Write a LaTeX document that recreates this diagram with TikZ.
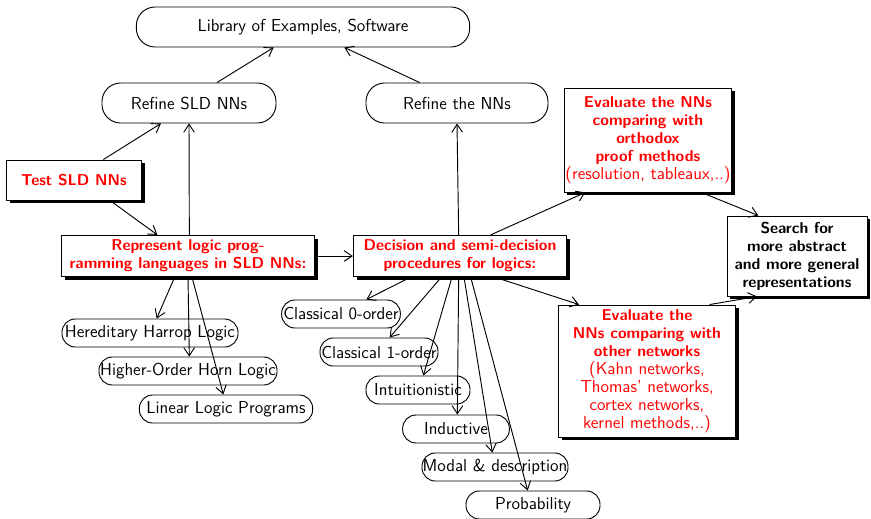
\documentclass[tikz,border=0pt]{standalone}
\usepackage{tikz}
\usetikzlibrary{arrows.meta, shadows}
\usepackage{xcolor}
\newcommand\nm{\mdseries\fontsize{13}{13.5}\selectfont}

\begin{document}
\begin{tikzpicture}[x=0.75pt, y=-0.75pt, font=\sffamily\fontsize{13}{13.5}\selectfont,
  o/.style={draw, line width=0.7pt, rounded corners=10pt, fill=white, align=center,
            inner sep=0pt, minimum height=21pt},
  big/.style={o, rounded corners=14pt, minimum height=30pt},
  rb/.style={draw, line width=0.7pt, fill=white, align=center, inner sep=1pt,
             text=red, font=\sffamily\bfseries\fontsize{11.8}{13.5}\selectfont,
             drop shadow={fill=black, opacity=1, shadow xshift=2.5pt, shadow yshift=-2.5pt}},
  bb/.style={rb, text=black},
  a/.style={-{Straight Barb[length=6pt, width=8pt]}, line width=0.7pt}]
  \useasboundingbox (0,0) rectangle (871,518);
  % ---- top row
  \node[big, minimum width=250pt]   (lib)    at (303,27)  {Library of Examples, Software};
  \node[big, minimum width=130.5pt] (refSLD) at (189,103) {Refine SLD NNs};
  \node[big, minimum width=136.5pt] (refNN)  at (457,103) {Refine the NNs};
  % ---- red boxes
  \node[rb, minimum width=101pt, minimum height=30pt] (test) at (74,180) {Test SLD NNs};
  \node[rb, minimum width=190pt, minimum height=31pt] (repr) at (188,256)
    {Represent logic prog-\\ramming languages in SLD NNs:};
  \node[rb, minimum width=160pt, minimum height=31pt] (dec) at (460,256)
    {Decision and semi-decision\\procedures for logics:};
  \node[rb, minimum width=123pt, minimum height=78pt] (evOrth) at (648,140)
    {Evaluate the NNs\\ comparing with\\orthodox\\proof methods\\
     \nm(resolution, tableaux,..)};
  \node[rb, minimum width=133pt, minimum height=99pt] (evOther) at (647,371)
    {Evaluate the\\NNs comparing with\\other networks\\
     \nm(Kahn networks,\\\nm Thomas' networks,\\\nm cortex networks,\\\nm kernel methods,..)};
  \node[bb, minimum width=105pt, minimum height=60pt] (search) at (797,256)
    {Search for\\more abstract\\and more general\\representations};
  % ---- logic programming languages
  \node[o, minimum width=132pt]   (hered)  at (150,333) {Hereditary Harrop Logic};
  \node[o, minimum width=133.5pt] (higher) at (188,371) {Higher-Order Horn Logic};
  \node[o, minimum width=130pt]   (linear) at (226,409) {Linear Logic Programs};
  % ---- logics
  \node[o, minimum width=89pt]    (cl0)   at (341,314) {Classical 0-order};
  \node[o, minimum width=88.5pt]  (cl1)   at (379,352) {Classical 1-order};
  \node[o, minimum width=78pt]    (intu)  at (418,390) {Intuitionistic};
  \node[o, minimum width=80pt]    (induc) at (456,429) {Inductive};
  \node[o, minimum width=109.5pt] (modal) at (495,467) {Modal \& description};
  \node[o, minimum width=100.5pt] (prob)  at (533,505) {Probability};
  % ---- connectors
  \draw[a] ([xshift=21pt]refSLD.north) -- ([xshift=-22pt]lib.south);
  \draw[a] ([xshift=-28pt]refNN.north) -- ([xshift=31pt]lib.south);
  \draw[a] ([xshift=22pt]test.north) -- ([xshift=-21pt]refSLD.south);
  \draw[a] ([xshift=27pt]test.south) -- ([xshift=-23pt]repr.north);
  \draw[a] ([xshift=1pt]repr.north) -- (refSLD.south);
  \draw[a] ([xshift=-1pt]dec.north) -- (refNN.south);
  \draw[a] ([xshift=23pt]dec.north) -- ([xshift=-47pt]evOrth.south);
  \draw[a] ([xshift=40pt]evOrth.south) -- ([xshift=-29pt]search.north);
  \draw[a] ([xshift=47pt]evOther.north) -- ([xshift=-30pt]search.south);
  \draw[a] (repr) -- (dec);
  \draw[a] ([xshift=26pt]dec.south) -- ([xshift=-51pt]evOther.north);
  \draw[a] ([xshift=-10pt]repr.south) -- ([xshift=5pt]hered.north);
  \draw[a] ([xshift=0pt]repr.south)   -- ([xshift=1pt]higher.north);
  \draw[a] ([xshift=3pt]repr.south)   -- ([xshift=-2pt]linear.north);
  \draw[a] ([xshift=-37pt]dec.south) -- ([xshift=19pt]cl0.north);
  \draw[a] ([xshift=-14pt]dec.south) -- ([xshift=8pt]cl1.north);
  \draw[a] ([xshift=-6pt]dec.south)  -- ([xshift=4pt]intu.north);
  \draw[a] ([xshift=-1pt]dec.south)  -- ([xshift=1pt]induc.north);
  \draw[a] ([xshift=3pt]dec.south)   -- ([xshift=-2pt]modal.north);
  \draw[a] ([xshift=8pt]dec.south)   -- ([xshift=-4pt]prob.north);
\end{tikzpicture}
\end{document}
